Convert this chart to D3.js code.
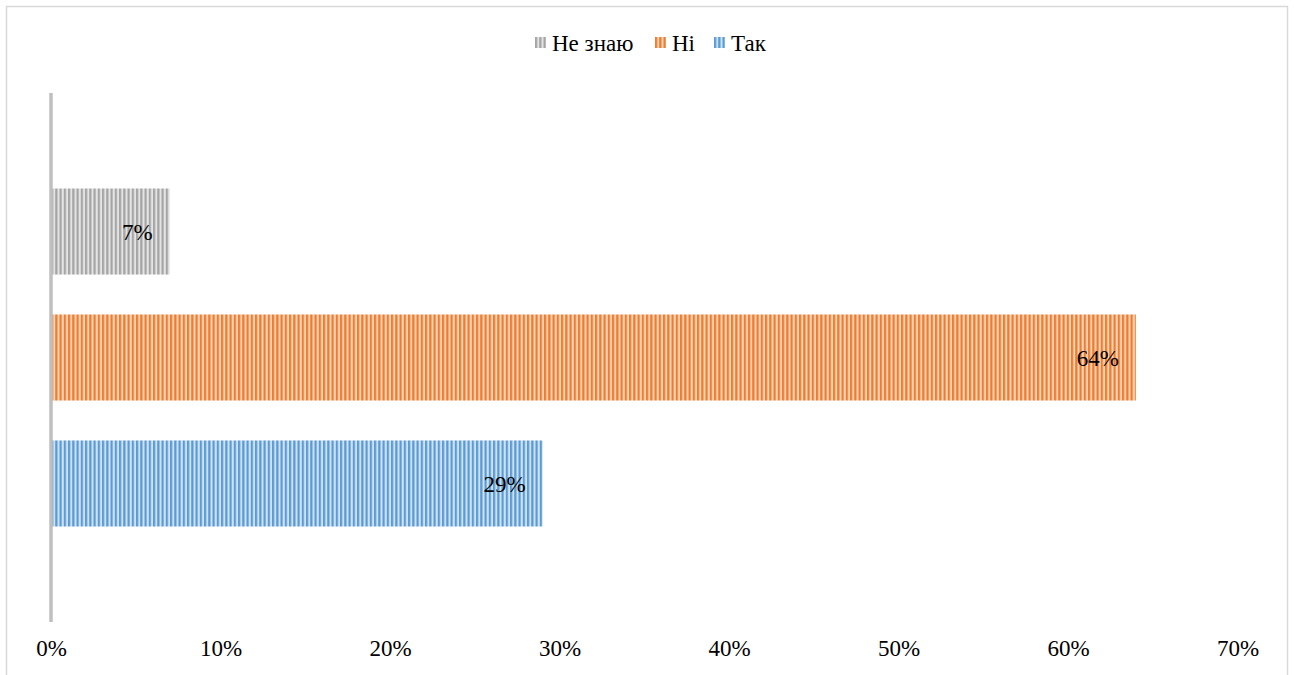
<!DOCTYPE html>
<html>
<head>
<meta charset="utf-8">
<script src="https://cdn.jsdelivr.net/npm/d3@7"></script>
<style>
  html, body { margin: 0; padding: 0; background: #fff; }
  svg { display: block; }
</style>
</head>
<body>
<svg id="chart" width="1294" height="675"></svg>
<script>
// Categories, drawn top to bottom
const categories = ["Не знаю", "Ні", "Так"];
// Share of answers, percent
const values = [7, 64, 29];
// Legend entries in drawing order
const legendItems = ["Не знаю", "Ні", "Так"];
// X axis ticks, percent
const tickValues = [0, 10, 20, 30, 40, 50, 60, 70];

const FONT = "'Liberation Serif', Tinos, 'Times New Roman', 'DejaVu Serif', serif";

const palette = {
  "Не знаю": { fg: "#a5a5a5", bg: "#e4e4e4" },
  "Ні":      { fg: "#ed7d31", bg: "#fbd3b6" },
  "Так":     { fg: "#5b9bd5", bg: "#cfe2f3" }
};

const svg = d3.select("#chart");

// Outer chart frame
svg.append("rect")
  .attr("x", 6.5).attr("y", 6.5)
  .attr("width", 1281).attr("height", 700)
  .attr("fill", "#fff").attr("stroke", "#d9d9d9").attr("stroke-width", 1.5);

// Vertical stripe fills
const defs = svg.append("defs");
categories.forEach((c, i) => {
  const p = defs.append("pattern")
    .attr("id", "stripe" + i)
    .attr("patternUnits", "userSpaceOnUse")
    .attr("width", 4.25).attr("height", 10);
  p.append("rect").attr("width", 4.25).attr("height", 10).attr("fill", palette[c].bg);
  p.append("rect").attr("width", 2.2).attr("height", 10).attr("fill", palette[c].fg);
});

const x = d3.scaleLinear().domain([0, 70]).range([51, 1237.5]);
const y = d3.scaleBand().domain(categories).range([93, 622])
  .paddingInner(0.317).paddingOuter(0.758);

// Bars
svg.append("g").selectAll("rect")
  .data(categories)
  .join("rect")
  .attr("x", x(0))
  .attr("y", d => y(d))
  .attr("width", (d, i) => x(values[i]) - x(0))
  .attr("height", y.bandwidth())
  .attr("fill", (d, i) => "url(#stripe" + i + ")");

// Value labels, inside the bar end
svg.append("g").selectAll("text")
  .data(categories)
  .join("text")
  .attr("x", (d, i) => x(values[i]) - 17)
  .attr("y", d => y(d) + y.bandwidth() / 2)
  .attr("dy", "0.35em")
  .attr("text-anchor", "end")
  .style("font-family", FONT)
  .style("font-size", "23px")
  .style("fill", "#000")
  .text((d, i) => values[i] + "%");

// Category axis line
svg.append("line")
  .attr("x1", x(0)).attr("x2", x(0))
  .attr("y1", 93).attr("y2", 622)
  .attr("stroke", "#bfbfbf").attr("stroke-width", 3.5);

// Value axis labels (no axis line)
const xAxis = d3.axisBottom(x)
  .tickValues(tickValues)
  .tickSize(0)
  .tickPadding(0)
  .tickFormat(d => d + "%");
const gx = svg.append("g").attr("transform", "translate(0,640)").call(xAxis);
gx.select(".domain").remove();
gx.selectAll("text")
  .style("font-family", FONT)
  .style("font-size", "23px")
  .style("fill", "#000");

// Legend
const legendX = [535, 655, 714];
const lg = svg.append("g");
legendItems.forEach((c, i) => {
  const g = lg.append("g").attr("transform", `translate(${legendX[i]},37)`);
  g.append("rect").attr("width", 11).attr("height", 11)
    .attr("fill", "url(#stripe" + categories.indexOf(c) + ")");
  g.append("text").attr("x", 17).attr("y", 5.5).attr("dy", "0.35em")
    .style("font-family", FONT)
    .style("font-size", "23px")
    .style("fill", "#000")
    .text(c);
});
</script>
</body>
</html>
